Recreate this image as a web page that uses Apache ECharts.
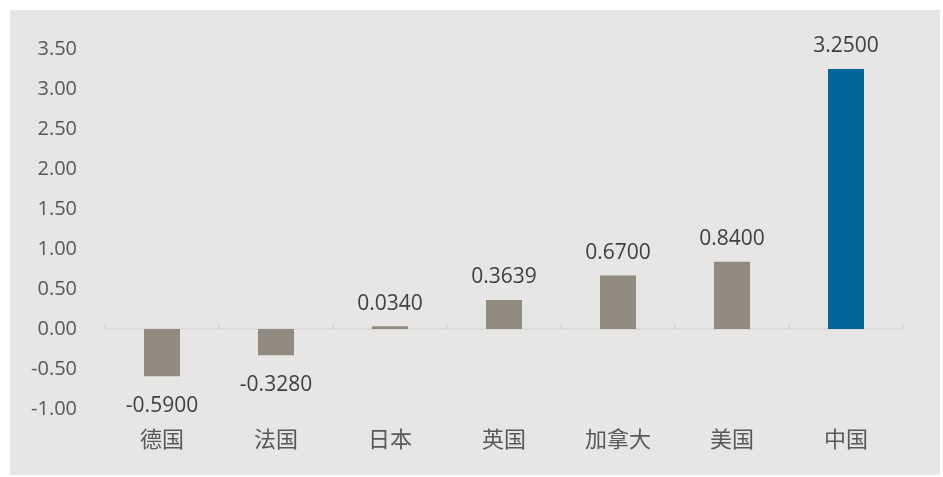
<!DOCTYPE html>
<html>
<head>
<meta charset="utf-8">
<script src="https://cdn.jsdelivr.net/npm/echarts@6/dist/echarts.min.js"></script>
<style>
  html, body { margin: 0; padding: 0; background: #ffffff; }
  #wrap { position: absolute; left: 10px; top: 10px; width: 930px; height: 465px; background: #e7e6e5; }
  #chart { position: absolute; left: 0; top: 0; width: 943px; height: 477px; }
</style>
</head>
<body>
<div id="wrap"></div>
<div id="chart"></div>
<script type="text/javascript">
  // 国家 / 数值
  var countries = ['德国', '法国', '日本', '英国', '加拿大', '美国', '中国'];
  var values = [-0.59, -0.328, 0.034, 0.3639, 0.67, 0.84, 3.25];
  var highlight = '中国';

  var font = '"Open Sans", "Noto Sans CJK SC", sans-serif';

  var barData = values.map(function (v, i) {
    return {
      value: v,
      itemStyle: { color: countries[i] === highlight ? '#006699' : '#918a7f' },
      label: v < 0 ? { position: 'bottom', distance: 19 } : { position: 'top', distance: 12 }
    };
  });

  var myChart = echarts.init(document.getElementById('chart'));
  var option = {
    backgroundColor: 'transparent',
    animation: false,
    grid: { left: 105, right: 40, top: 49, bottom: 68 },
    xAxis: [
      {
        type: 'category',
        data: countries,
        axisLine: { onZero: true, lineStyle: { color: '#d6d6d6', width: 1.5 } },
        axisTick: { show: true, inside: true, length: 5, lineStyle: { color: '#d6d6d6', width: 1.5 } },
        axisLabel: { show: false }
      },
      {
        type: 'category',
        data: countries,
        position: 'bottom',
        axisLine: { show: false, onZero: false },
        axisTick: { show: false },
        axisLabel: { color: '#595959', fontSize: 22, fontFamily: font, margin: 21 }
      }
    ],
    yAxis: {
      type: 'value',
      min: -1,
      max: 3.5,
      interval: 0.5,
      splitLine: { show: false },
      axisLine: { show: false },
      axisTick: { show: false },
      axisLabel: {
        color: '#595959', fontSize: 20, fontFamily: font, margin: 28,
        formatter: function (v) { return v.toFixed(2); }
      }
    },
    series: [
      {
        type: 'bar',
        xAxisIndex: 0,
        barWidth: 36,
        data: barData,
        label: {
          show: true,
          color: '#404040',
          fontSize: 21,
          fontFamily: font,
          formatter: function (p) { return p.value.toFixed(4); }
        }
      }
    ]
  };
  myChart.setOption(option);
</script>
</body>
</html>
